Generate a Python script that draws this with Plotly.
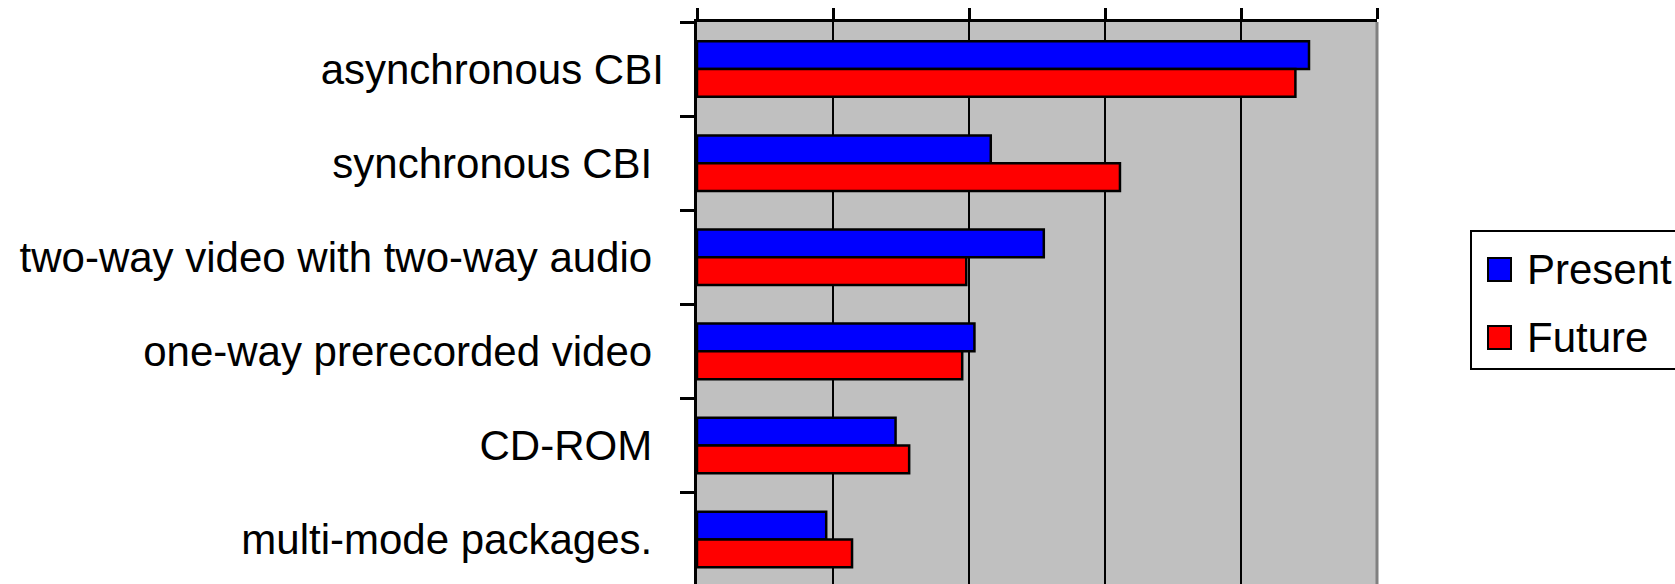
import plotly.graph_objects as go

# Delivery modes, listed top to bottom
categories = [
    "asynchronous CBI",
    "synchronous CBI\u00a0",
    "two-way video with two-way audio\u00a0",
    "one-way prerecorded video\u00a0",
    "CD-ROM\u00a0",
    "multi-mode packages.\u00a0",
]
present = [45.0, 21.6, 25.5, 20.4, 14.6, 9.5]
future = [44.0, 31.1, 19.8, 19.5, 15.6, 11.4]
series_names = ["Present", "Future"]
series_colors = ["#0000FF", "#FF0000"]

W, H = 1675, 584
L, R, T, B = 697, 298, 22, 0
PW, PH = W - L - R, H - T - B
FONT = "Liberation Sans, Arial, sans-serif"


def px_x(x):
    return (x - L) / PW


def px_y(y):
    return (H - B - y) / PH


fig = go.Figure()
for name, vals, col in zip(series_names, [present, future], series_colors):
    fig.add_trace(go.Bar(
        y=categories, x=vals, name=name, orientation="h",
        marker=dict(color=col, line=dict(color="black", width=2.5)),
        showlegend=False,
    ))

shapes = [
    # right border of the plot area
    dict(type="line", xref="paper", yref="paper", x0=1, x1=1, y0=0, y1=1,
         line=dict(color="#808080", width=3), layer="above"),
    # legend frame
    dict(type="rect", xref="paper", yref="paper",
         x0=px_x(1471), x1=px_x(1720), y0=px_y(369), y1=px_y(231),
         line=dict(color="black", width=2), fillcolor="white", layer="above"),
]
annotations = []
for i, (name, col) in enumerate(zip(series_names, series_colors)):
    cy = 269.5 + i * 68
    shapes.append(dict(type="rect", xref="paper", yref="paper",
                       x0=px_x(1488), x1=px_x(1511),
                       y0=px_y(cy + 11.5), y1=px_y(cy - 11.5),
                       line=dict(color="black", width=2), fillcolor=col,
                       layer="above"))
    annotations.append(dict(xref="paper", yref="paper", x=px_x(1525), y=px_y(cy),
                            text=name, showarrow=False, xanchor="left",
                            yanchor="middle",
                            font=dict(family=FONT, size=42, color="black")))

fig.update_layout(
    width=W, height=H,
    margin=dict(l=L, r=R, t=T, b=B, pad=0),
    paper_bgcolor="white", plot_bgcolor="#C0C0C0",
    barmode="group", bargap=0.41, bargroupgap=0,
    font=dict(family=FONT, size=42, color="black"),
    shapes=shapes, annotations=annotations,
    xaxis=dict(range=[0, 50], tickvals=[0, 10, 20, 30, 40, 50], side="top",
               showticklabels=False, ticks="outside", ticklen=11, tickwidth=2.5,
               tickcolor="black", showgrid=True, gridcolor="black", gridwidth=2,
               showline=True, linecolor="black", linewidth=2.5, zeroline=False,
               automargin=False, fixedrange=True),
    yaxis=dict(type="category", categoryorder="array", categoryarray=categories,
               range=[5.472, -0.5], ticks="outside", tickson="boundaries",
               ticklen=14, tickwidth=2.5, tickcolor="black", showline=True,
               linecolor="black", linewidth=2.5, showgrid=False, zeroline=False,
               ticklabelstandoff=22,
               tickfont=dict(family=FONT, size=42, color="black"),
               automargin=False, fixedrange=True),
)

fig.write_html("out.html", config={"displayModeBar": False})
